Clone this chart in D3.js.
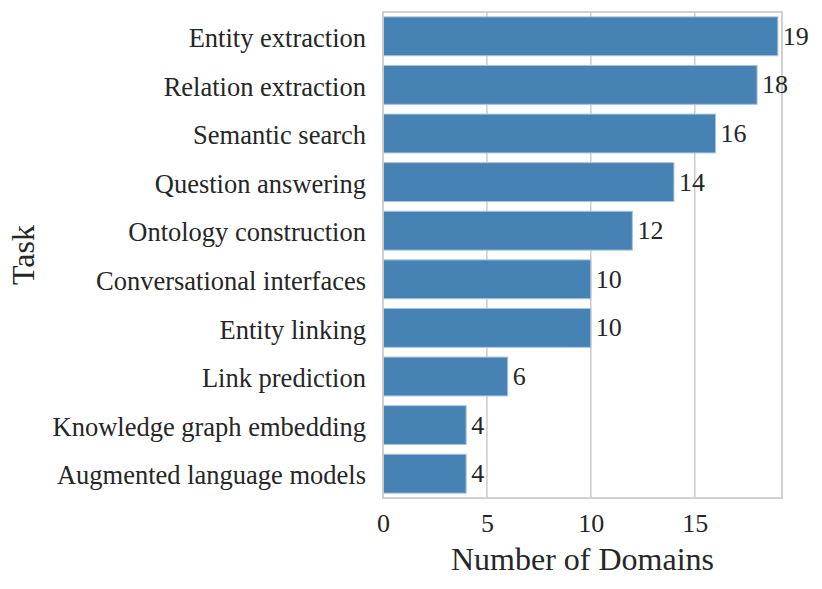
<!DOCTYPE html>
<html>
<head>
<meta charset="utf-8">
<script src="https://cdn.jsdelivr.net/npm/d3@7"></script>
<style>
  body { margin: 0; background: #fff; }
  svg text { font-family: "Liberation Serif", "DejaVu Serif", serif; fill: #262626; }
</style>
</head>
<body>
<svg id="chart" width="822" height="589"></svg>
<script>
// data
const tasks = ["Entity extraction", "Relation extraction", "Semantic search", "Question answering",
  "Ontology construction", "Conversational interfaces", "Entity linking", "Link prediction",
  "Knowledge graph embedding", "Augmented language models"];
const domains = [19, 18, 16, 14, 12, 10, 10, 6, 4, 4];
const xTicks = [0, 5, 10, 15];

const svg = d3.select("#chart"),
  margin = {top: 12, left: 383, right: 40, bottom: 91},
  width = +svg.attr("width") - margin.left - margin.right,
  height = +svg.attr("height") - margin.top - margin.bottom;

const rows = tasks.map((t, i) => ({task: t, value: domains[i]}));

const x = d3.scaleLinear().domain([0, 19.2]).range([0, width]);
const y = d3.scaleBand().domain(tasks).range([0, height]).paddingInner(0.2).paddingOuter(0.1);

const g = svg.append("g").attr("transform", "translate(" + margin.left + "," + margin.top + ")");

// grid lines behind bars
g.selectAll(".grid").data(xTicks.slice(1))
  .enter().append("line")
  .attr("x1", d => x(d)).attr("x2", d => x(d))
  .attr("y1", 0).attr("y2", height)
  .attr("stroke", "#cccccc").attr("stroke-width", 1.5);

g.selectAll(".bar").data(rows)
  .enter().append("rect")
  .attr("x", 0)
  .attr("y", d => y(d.task))
  .attr("width", d => x(d.value))
  .attr("height", y.bandwidth())
  .attr("fill", "#4682b4")
  .attr("stroke", "#a9c4dc")
  .attr("stroke-width", 1);

// frame
g.append("rect")
  .attr("width", width).attr("height", height)
  .attr("fill", "none").attr("stroke", "#cccccc").attr("stroke-width", 1.8);

// value labels
g.selectAll(".val").data(rows)
  .enter().append("text")
  .attr("x", d => x(d.value) + 5)
  .attr("y", d => y(d.task) + y.bandwidth() / 2)
  .attr("dy", "0.33em")
  .style("font-size", "26px")
  .text(d => d.value);

// y axis labels
const yAxis = g.append("g").call(d3.axisLeft(y).tickSize(0).tickPadding(17));
yAxis.select(".domain").remove();
yAxis.selectAll("text").style("font-size", "26.5px").attr("dy", "0.4em").attr("fill", "#262626");

// x axis labels
const xAxis = g.append("g").attr("transform", "translate(0," + height + ")")
  .call(d3.axisBottom(x).tickValues(xTicks).tickSize(0).tickPadding(16));
xAxis.select(".domain").remove();
xAxis.selectAll("text").style("font-size", "26px").attr("fill", "#262626");

svg.append("text")
  .attr("x", margin.left + width / 2)
  .attr("y", 570)
  .attr("text-anchor", "middle")
  .style("font-size", "32px")
  .text("Number of Domains");

svg.append("text")
  .attr("transform", "translate(34," + (margin.top + height / 2) + ") rotate(-90)")
  .attr("text-anchor", "middle")
  .style("font-size", "32px")
  .text("Task");
</script>
</body>
</html>
